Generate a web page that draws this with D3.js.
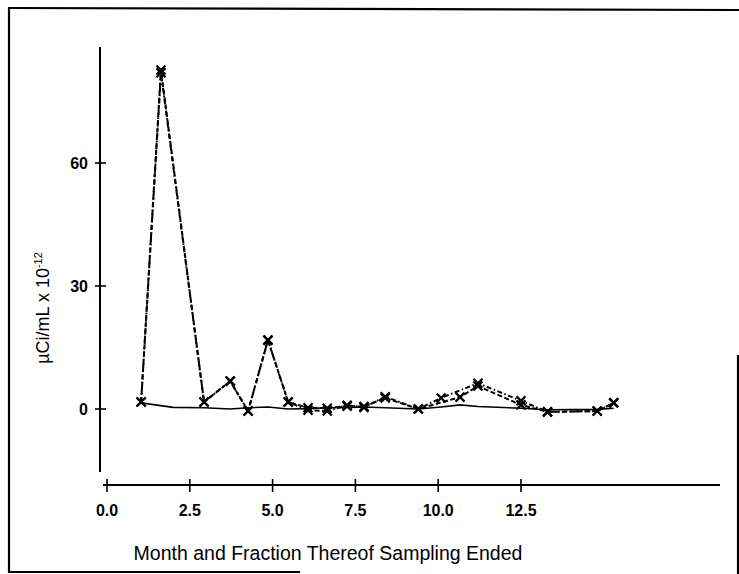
<!DOCTYPE html>
<html><head><meta charset="utf-8">
<script src="https://cdn.jsdelivr.net/npm/d3@7/dist/d3.min.js"></script>
<style>body{margin:0;background:#fff}svg{display:block}</style>
</head><body>
<script>
// Data
const xTicks = [0.0, 2.5, 5.0, 7.5, 10.0, 12.5];
const yTicks = [0, 30, 60];
const dashedX = [1.03, 1.63, 2.93, 3.72, 4.26, 4.86, 5.47, 6.07, 6.65, 7.25, 7.76, 8.40, 9.40, 10.66, 11.20, 12.50, 13.30, 14.80, 15.30];
const dashedY = [1.7, 82.7, 1.7, 6.8, -0.5, 16.8, 1.7, 0.3, 0.2, 0.7, 0.6, 2.7, 0.0, 2.9, 5.6, 1.0, -0.7, -0.5, 1.5];
const dashDotX = [1.03, 1.63, 2.93, 3.72, 4.26, 4.86, 5.47, 6.07, 6.65, 7.25, 7.76, 8.40, 9.40, 10.09, 11.20, 12.50, 13.30, 14.80, 15.30];
const dashDotY = [1.7, 82.0, 1.7, 6.8, -0.5, 16.8, 1.7, -0.3, -0.5, 0.9, 0.4, 3.0, 0.0, 2.7, 6.3, 2.0, -0.7, -0.5, 1.5];
const solidX = [1.03, 2.00, 2.93, 3.72, 4.26, 4.86, 5.47, 6.07, 6.65, 7.25, 7.76, 8.40, 9.40, 10.09, 10.66, 11.20, 12.50, 13.30, 14.80, 15.30];
const solidY = [1.5, 0.4, 0.3, 0.0, 0.3, 0.5, 0.0, 0.1, 0.3, 0.4, 0.5, 0.3, 0.0, 0.5, 1.0, 0.6, 0.2, -0.2, -0.1, 0.2];
const xTitle = "Month and Fraction Thereof Sampling Ended";

const W = 739, H = 574;
const svg = d3.select("body").append("svg").attr("width", W).attr("height", H);
const font = "'Liberation Sans', Arial, sans-serif";
const tickFont = "'Liberation Sans Narrow', 'Liberation Sans', Arial, sans-serif";

const x = d3.scaleLinear().domain([0, 12.5]).range([107, 521]);
const y = d3.scaleLinear().domain([0, 60]).range([409, 163]);

// frame (scanned border)
const frame = svg.append("g").attr("stroke", "#000").attr("stroke-width", 2.2).attr("fill", "none");
frame.append("line").attr("x1", 9).attr("y1", 8).attr("x2", 9).attr("y2", 573);
frame.append("line").attr("x1", 8).attr("y1", 8).attr("x2", 739).attr("y2", 10);
frame.append("line").attr("x1", 738).attr("y1", 355).attr("x2", 738).attr("y2", 574);
frame.append("line").attr("x1", 9).attr("y1", 572).attr("x2", 300).attr("y2", 572);

// y axis
const yAxis = svg.append("g").attr("transform", "translate(100,0)");
yAxis.append("line").attr("x1", 0).attr("x2", 0).attr("y1", 47).attr("y2", 472)
  .attr("stroke", "#000").attr("stroke-width", 2);
yAxis.selectAll("line.t").data(yTicks).join("line").attr("class", "t")
  .attr("x1", -5).attr("x2", 6).attr("y1", d => y(d)).attr("y2", d => y(d))
  .attr("stroke", "#000").attr("stroke-width", 1.6);
yAxis.selectAll("text").data(yTicks).join("text")
  .attr("x", -12).attr("y", d => y(d)).attr("dy", "0.36em")
  .attr("text-anchor", "end").attr("font-family", tickFont).attr("font-size", 16)
  .attr("font-weight", "bold").text(d => d);

// x axis
const xAxis = svg.append("g").attr("transform", "translate(0,485)");
xAxis.append("line").attr("x1", 103).attr("x2", 720).attr("y1", 0).attr("y2", 0)
  .attr("stroke", "#000").attr("stroke-width", 2);
xAxis.selectAll("line.t").data(xTicks).join("line").attr("class", "t")
  .attr("x1", d => x(d)).attr("x2", d => x(d)).attr("y1", -6).attr("y2", 7)
  .attr("stroke", "#000").attr("stroke-width", 1.6);
xAxis.selectAll("text").data(xTicks).join("text")
  .attr("x", d => x(d)).attr("y", 25).attr("dy", "0.36em")
  .attr("text-anchor", "middle").attr("font-family", tickFont).attr("font-size", 16)
  .attr("font-weight", "bold").text(d => d.toFixed(1));

// titles
svg.append("text").attr("x", 328).attr("y", 553).attr("dy", "0.36em")
  .attr("text-anchor", "middle").attr("font-family", font).attr("font-size", 19.5)
  .text(xTitle);
const yt = svg.append("text").attr("transform", "translate(43,308) rotate(-90)")
  .attr("text-anchor", "middle").attr("dy", "0.36em")
  .attr("font-family", font).attr("font-size", 18);
yt.append("tspan").text("\u00B5Ci/mL x 10");
yt.append("tspan").attr("font-size", 11).attr("dy", "-0.7em").text("-12");

// lines
const line = d3.line().x(d => x(d[0])).y(d => y(d[1]));
const zip = (a, b) => a.map((v, i) => [v, b[i]]);
const solid = zip(solidX, solidY), dashed = zip(dashedX, dashedY), dashDot = zip(dashDotX, dashDotY);

svg.append("path").datum(solid).attr("d", line).attr("fill", "none")
  .attr("stroke", "#000").attr("stroke-width", 1.6);
svg.append("path").datum(dashed).attr("d", line).attr("fill", "none")
  .attr("stroke", "#000").attr("stroke-width", 2).attr("stroke-dasharray", "5,2.5");
svg.append("path").datum(dashDot).attr("d", line).attr("fill", "none")
  .attr("stroke", "#000").attr("stroke-width", 2).attr("stroke-dasharray", "5,2.5,1.5,2.5");

// markers (x)
const mk = (g, data) => g.selectAll("path").data(data).join("path")
  .attr("d", d => { const cx = x(d[0]), cy = y(d[1]), s = 4.5;
    return `M${cx-s},${cy-s}L${cx+s},${cy+s}M${cx-s},${cy+s}L${cx+s},${cy-s}`; })
  .attr("stroke", "#000").attr("stroke-width", 2.2).attr("fill", "none");
mk(svg.append("g"), dashed);
mk(svg.append("g"), dashDot);
</script>
</body></html>
